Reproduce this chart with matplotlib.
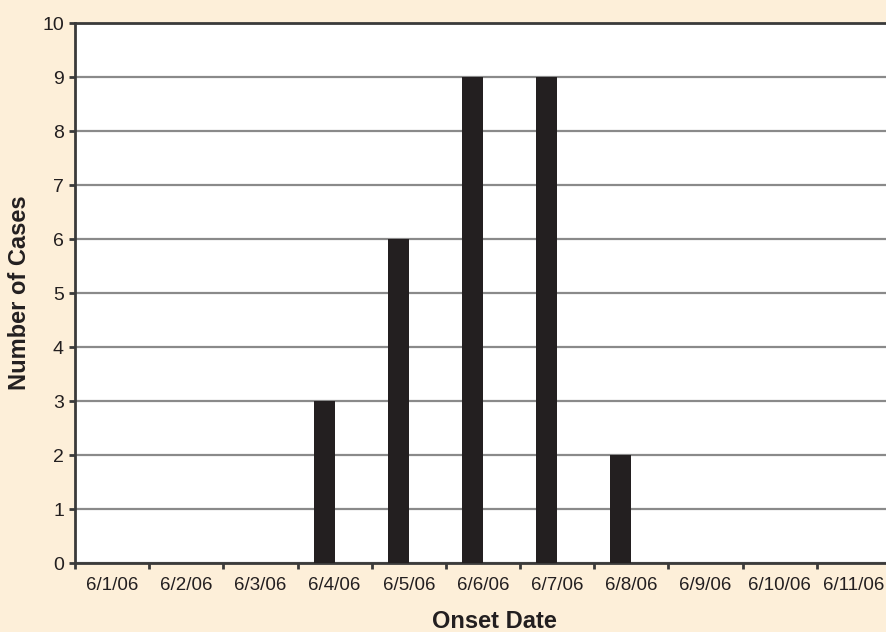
import numpy as np
import matplotlib
matplotlib.use('Agg')
from matplotlib import pyplot as plt

plt.rcParams['font.family'] = ['Liberation Sans', 'DejaVu Sans']

dates = ['6/1/06', '6/2/06', '6/3/06', '6/4/06', '6/5/06', '6/6/06',
         '6/7/06', '6/8/06', '6/9/06', '6/10/06', '6/11/06']
cases = [0, 0, 0, 3, 6, 9, 9, 2, 0, 0, 0]

bg = '#fdefd9'
bar_color = '#231f20'
axis_color = '#3a3a3a'

fig = plt.figure(figsize=(8.86, 6.32), dpi=100, facecolor=bg)
# plot area runs past the right edge of the picture, as in the original
ax = fig.add_axes([75 / 886, 69 / 632, 816 / 886, 540 / 632])
ax.set_facecolor('white')

x = np.arange(len(dates))
width = 0.283
# bars sit left of the category centre (second, empty series in the original)
ax.bar(x - width / 2, cases, width=width, color=bar_color, zorder=3)

ax.set_xlim(-0.5, len(dates) - 0.5)
ax.set_ylim(0, 10)
ax.set_yticks(range(0, 11))
ax.yaxis.grid(True, color='#8a8a8a', linewidth=1.6, zorder=0)
ax.set_axisbelow(True)

ax.set_xticks(x)
ax.set_xticklabels(dates)
ax.set_xticks(np.arange(-0.5, len(dates), 1), minor=True)
ax.tick_params(axis='x', which='major', length=0, pad=10, labelsize=13.5, colors='#231f20')
ax.tick_params(axis='x', which='minor', length=4, width=2, direction='out', color=axis_color)
ax.tick_params(axis='y', length=4, width=2, direction='out', color=axis_color,
               pad=4, labelsize=14, labelcolor='#231f20')

for side in ['left', 'bottom', 'top']:
    ax.spines[side].set_color(axis_color)
    ax.spines[side].set_linewidth(2)
ax.spines['right'].set_visible(False)

ax.set_xlabel('Onset Date', fontsize=17, fontweight='bold', color='#231f20', va='center')
ax.xaxis.set_label_coords((494 - 75) / 816, -58 / 540)
ax.set_ylabel('Number of Cases', fontsize=17, fontweight='bold', color='#231f20', va='center')
ax.yaxis.set_label_coords(-55 / 816, 0.5)

fig.savefig('out.png', dpi=100, facecolor=bg)
